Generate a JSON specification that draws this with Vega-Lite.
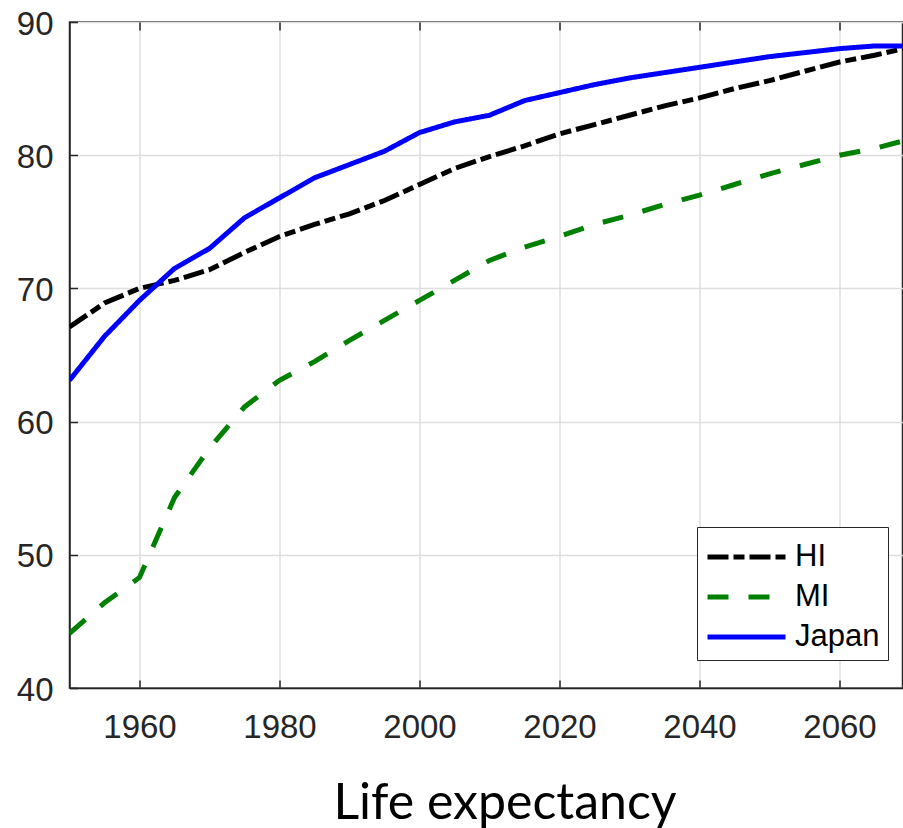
{
  "$schema": "https://vega.github.io/schema/vega-lite/v6.json",
  "width": 833,
  "height": 666,
  "autosize": {"type": "none"},
  "padding": {"left": 69.5, "top": 22, "right": 0, "bottom": 140},
  "background": "white",
  "config": {
    "view": {"stroke": "#262626", "strokeWidth": 1.5},
    "axis": {
      "labelFont": "Liberation Sans",
      "labelFontSize": 33,
      "labelColor": "#262626",
      "domainColor": "#262626",
      "domainWidth": 1.5,
      "tickColor": "#262626",
      "tickWidth": 1.5,
      "tickSize": -8,
      "gridColor": "#dedede",
      "gridWidth": 1.5
    }
  },
  "data": {
    "values": [
      {"year": 1950, "series": "HI", "value": 67.1},
      {"year": 1955, "series": "HI", "value": 68.9},
      {"year": 1960, "series": "HI", "value": 70.0},
      {"year": 1965, "series": "HI", "value": 70.6},
      {"year": 1970, "series": "HI", "value": 71.4},
      {"year": 1975, "series": "HI", "value": 72.7},
      {"year": 1980, "series": "HI", "value": 73.9},
      {"year": 1985, "series": "HI", "value": 74.8},
      {"year": 1990, "series": "HI", "value": 75.6},
      {"year": 1995, "series": "HI", "value": 76.6},
      {"year": 2000, "series": "HI", "value": 77.8},
      {"year": 2005, "series": "HI", "value": 79.0},
      {"year": 2010, "series": "HI", "value": 79.9},
      {"year": 2015, "series": "HI", "value": 80.7},
      {"year": 2020, "series": "HI", "value": 81.6},
      {"year": 2025, "series": "HI", "value": 82.3},
      {"year": 2030, "series": "HI", "value": 83.0},
      {"year": 2035, "series": "HI", "value": 83.7},
      {"year": 2040, "series": "HI", "value": 84.3},
      {"year": 2045, "series": "HI", "value": 85.0},
      {"year": 2050, "series": "HI", "value": 85.6},
      {"year": 2055, "series": "HI", "value": 86.3},
      {"year": 2060, "series": "HI", "value": 87.0},
      {"year": 2065, "series": "HI", "value": 87.5},
      {"year": 2070, "series": "HI", "value": 88.1},
      {"year": 1950, "series": "MI", "value": 44.1},
      {"year": 1955, "series": "MI", "value": 46.4},
      {"year": 1960, "series": "MI", "value": 48.3},
      {"year": 1965, "series": "MI", "value": 54.3},
      {"year": 1970, "series": "MI", "value": 58.0},
      {"year": 1975, "series": "MI", "value": 61.1},
      {"year": 1980, "series": "MI", "value": 63.1},
      {"year": 1985, "series": "MI", "value": 64.5},
      {"year": 1990, "series": "MI", "value": 66.1},
      {"year": 1995, "series": "MI", "value": 67.6},
      {"year": 2000, "series": "MI", "value": 69.1},
      {"year": 2005, "series": "MI", "value": 70.6},
      {"year": 2010, "series": "MI", "value": 72.1},
      {"year": 2015, "series": "MI", "value": 73.1},
      {"year": 2020, "series": "MI", "value": 73.9},
      {"year": 2025, "series": "MI", "value": 74.8},
      {"year": 2030, "series": "MI", "value": 75.5},
      {"year": 2035, "series": "MI", "value": 76.3},
      {"year": 2040, "series": "MI", "value": 77.0},
      {"year": 2045, "series": "MI", "value": 77.8},
      {"year": 2050, "series": "MI", "value": 78.6},
      {"year": 2055, "series": "MI", "value": 79.3},
      {"year": 2060, "series": "MI", "value": 80.0},
      {"year": 2065, "series": "MI", "value": 80.5},
      {"year": 2070, "series": "MI", "value": 81.2},
      {"year": 1950, "series": "Japan", "value": 63.1},
      {"year": 1955, "series": "Japan", "value": 66.4},
      {"year": 1960, "series": "Japan", "value": 69.1},
      {"year": 1965, "series": "Japan", "value": 71.5},
      {"year": 1970, "series": "Japan", "value": 73.0},
      {"year": 1975, "series": "Japan", "value": 75.3},
      {"year": 1980, "series": "Japan", "value": 76.8},
      {"year": 1985, "series": "Japan", "value": 78.3},
      {"year": 1990, "series": "Japan", "value": 79.3},
      {"year": 1995, "series": "Japan", "value": 80.3},
      {"year": 2000, "series": "Japan", "value": 81.7},
      {"year": 2005, "series": "Japan", "value": 82.5},
      {"year": 2010, "series": "Japan", "value": 83.0},
      {"year": 2015, "series": "Japan", "value": 84.1},
      {"year": 2020, "series": "Japan", "value": 84.7},
      {"year": 2025, "series": "Japan", "value": 85.3},
      {"year": 2030, "series": "Japan", "value": 85.8},
      {"year": 2035, "series": "Japan", "value": 86.2},
      {"year": 2040, "series": "Japan", "value": 86.6},
      {"year": 2045, "series": "Japan", "value": 87.0},
      {"year": 2050, "series": "Japan", "value": 87.4},
      {"year": 2055, "series": "Japan", "value": 87.7},
      {"year": 2060, "series": "Japan", "value": 88.0},
      {"year": 2065, "series": "Japan", "value": 88.2},
      {"year": 2070, "series": "Japan", "value": 88.2}
    ]
  },
  "layer": [
    {
      "mark": {"type": "line", "strokeWidth": 5, "clip": true},
      "encoding": {
        "x": {
          "field": "year", "type": "quantitative",
          "scale": {"domain": [1950, 2069], "nice": false, "zero": false},
          "axis": {
            "values": [1960, 1980, 2000, 2020, 2040, 2060],
            "format": "d",
            "labelPadding": 31,
            "title": "Life expectancy",
            "titleFont": "Lato",
            "titleFontSize": 50,
            "titleFontWeight": "normal",
            "titleColor": "#000000",
            "titleX": 435,
            "titleY": 130,
            "titleBaseline": "alphabetic",
            "titleAnchor": "middle"
          }
        },
        "y": {
          "field": "value", "type": "quantitative",
          "scale": {"domain": [40, 90], "nice": false, "zero": false},
          "axis": {
            "values": [40, 50, 60, 70, 80, 90],
            "labelPadding": 24.5,
            "labelOffset": 2,
            "title": null
          }
        },
        "color": {
          "field": "series", "type": "nominal",
          "scale": {"domain": ["HI", "MI", "Japan"], "range": ["#000000", "#008000", "#0000ff"]},
          "legend": {
            "title": null,
            "orient": "none",
            "legendX": 627.5,
            "legendY": 505,
            "direction": "vertical",
            "fillColor": "#ffffff",
            "strokeColor": "#262626",
            "padding": 8,
            "labelFont": "Liberation Sans",
            "labelFontSize": 31,
            "labelColor": "#000000",
            "symbolType": "M-1,0H3",
            "symbolSize": 1521,
            "symbolStrokeWidth": 5,
            "labelOffset": 46,
            "rowPadding": 3
          }
        },
        "strokeDash": {
          "field": "series", "type": "nominal",
          "scale": {"domain": ["HI", "MI", "Japan"], "range": [[21, 5, 11, 5], [21, 20], [1, 0]]},
          "legend": null
        }
      }
    },
    {
      "mark": {"type": "line", "opacity": 0},
      "encoding": {
        "x": {
          "field": "year", "type": "quantitative",
          "scale": {"domain": [1950, 2069], "nice": false, "zero": false},
          "axis": {
            "orient": "top",
            "values": [1960, 1980, 2000, 2020, 2040, 2060],
            "labels": false,
            "grid": false,
            "domain": false,
            "title": null
          }
        },
        "y": {"field": "value", "type": "quantitative"},
        "detail": {"field": "series"}
      }
    }
  ],
  "resolve": {"axis": {"x": "independent"}}
}
